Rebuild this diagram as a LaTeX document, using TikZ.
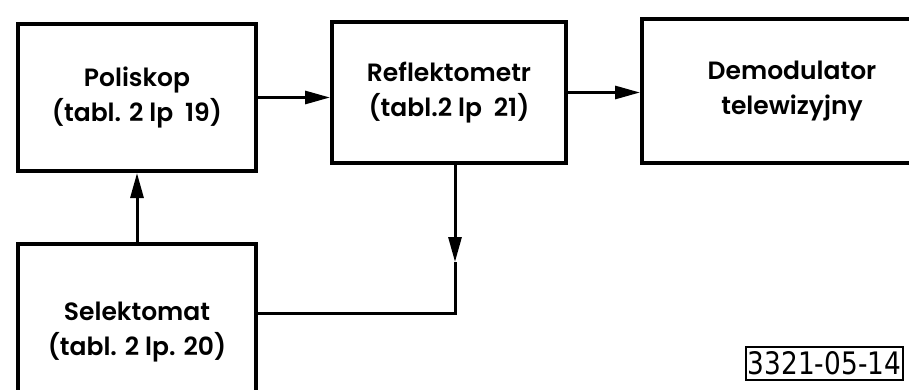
\documentclass[tikz,border=0pt]{standalone}
\usepackage{fontspec}
\setmainfont{Poppins}[BoldFont={* SemiBold}]
\newfontfamily\numfont[FakeStretch=0.85]{DejaVu Sans}
\usetikzlibrary{arrows.meta}

\begin{document}
\begin{tikzpicture}[x=1pt, y=-1pt,
    >={Triangle[length=25pt,width=13pt]},
    block/.style={draw, line width=4pt, align=center,
      font=\fontsize{25}{35}\selectfont\bfseries},
    link/.style={line width=3pt}]
  \useasboundingbox (0,0) rectangle (909,390);

  % Blocks
  \node[block, minimum width=238pt, minimum height=147pt] (poli) at (137,97.5)
    {Poliskop\\(tabl. 2 lp~~19)};
  \node[block, minimum width=234pt, minimum height=141pt] (refl) at (449,92.5)
    {Reflektometr\\(tabl.2 lp~~21)};
  \node[block, minimum width=300pt, minimum height=144pt] (demo) at (792,91)
    {Demodulator\\telewizyjny};
  \node[block, minimum width=238pt, minimum height=176pt] (sele) at (137,332)
    {Selektomat\\(tabl. 2 lp. 20)};

  % Signal path
  \draw[link, ->] (poli.east) -- (poli.east -| refl.west);
  \draw[link, ->] (refl.east) -- (refl.east -| demo.west);
  \draw[link, ->] (sele.north) -- (poli.south);

  % Feedback from Reflektometr to Selektomat
  \coordinate (drop) at ([xshift=6pt]refl.south);
  \coordinate (mid) at (455,262);
  \coordinate (turn) at (455,313);
  \draw[link, ->] (drop) -- (mid);
  \draw[link] (mid) -- (turn) -- (turn -| sele.east);

  % Drawing number
  \node[draw, line width=2pt, inner sep=2pt, minimum width=155pt,
    minimum height=33pt, font=\numfont\fontsize{31}{31}\selectfont]
    (num) at (824.5,363.5) {3321-05-14};
\end{tikzpicture}
\end{document}
